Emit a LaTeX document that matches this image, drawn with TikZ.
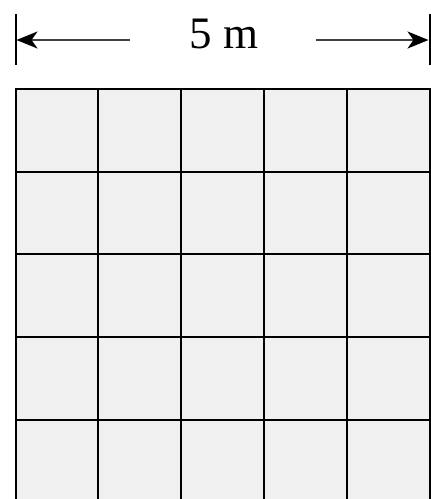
\documentclass[tikz,border=0pt]{standalone}
\usepackage{fontspec}
\setmainfont{Liberation Serif}
\usetikzlibrary{arrows.meta}
\definecolor{cellfill}{HTML}{F0F0F0}
\definecolor{dimline}{HTML}{404040}
\tikzset{
  gridline/.style={line width=2pt, black},
  dimarrow/.style={line width=2.2pt, dimline, -{Stealth[length=21pt,width=17pt,inset=6pt,black]}},
  ticklines/.style={line width=2pt, black},
}
\begin{document}
\begin{tikzpicture}[x=1pt,y=-1pt]
\useasboundingbox (0,0) rectangle (431,499);
\clip (0,0) rectangle (431,499);
% grid
\fill[cellfill] (15.5,89) rectangle (429.5,502.5);
\foreach \i in {0,...,5}{
  \draw[gridline] ({15.5+82.8*\i},88) -- ({15.5+82.8*\i},505);
  \draw[gridline] (14.5,{89+82.7*\i}) -- (430.5,{89+82.7*\i});
}
% dimension
\coordinate (tl) at (15.5,14);
\coordinate (bl) at (15.5,65);
\coordinate (tr) at (429.5,14);
\coordinate (br) at (429.5,65);
\draw[ticklines] (tl) -- (bl);
\draw[ticklines] (tr) -- (br);
\node[font=\fontsize{45}{50}\selectfont, inner sep=0pt, anchor=base] (lbl) at (224,48) {5 m};
\coordinate (ls) at (130,40);
\coordinate (le) at (16.5,40);
\coordinate (rs) at (315.5,40);
\coordinate (re) at (428.5,40);
\draw[dimarrow] (ls) -- (le);
\draw[dimarrow] (rs) -- (re);
\end{tikzpicture}
\end{document}
